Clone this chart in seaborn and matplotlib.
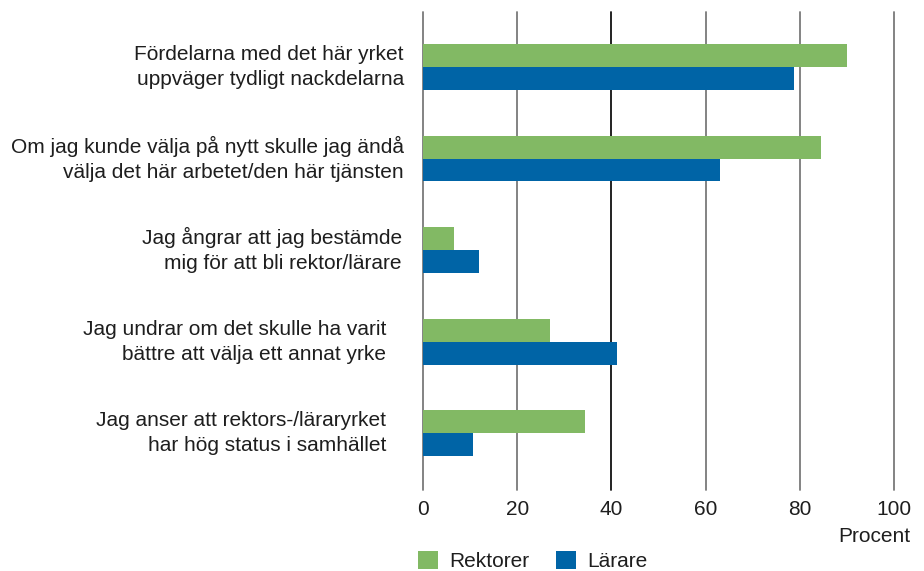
import matplotlib
matplotlib.use("Agg")
import matplotlib.pyplot as plt
from matplotlib.transforms import Bbox, blended_transform_factory, ScaledTranslation
from matplotlib.patches import Patch
import seaborn as sns
import pandas as pd

# Survey statements (two-line labels) and shares in percent
statements = [
    "Fördelarna med det här yrket\nuppväger tydligt nackdelarna",
    "Om jag kunde välja på nytt skulle jag ändå\nvälja det här arbetet/den här tjänsten",
    "Jag ångrar att jag bestämde\nmig för att bli rektor/lärare",
    "Jag undrar om det skulle ha varit\nbättre att välja ett annat yrke",
    "Jag anser att rektors-/läraryrket\nhar hög status i samhället",
]
groups = ["Rektorer", "Lärare"]
rektorer = [90, 84.5, 6.5, 27, 34.3]
larare = [78.7, 63, 11.8, 41.2, 10.7]
x_ticks = [0, 20, 40, 60, 80, 100]
x_label = "Procent"

colors = {"Rektorer": "#82B964", "Lärare": "#0064A6"}
text_color = "#1e1e1e"
fs = 15

df = pd.DataFrame({
    "statement": statements * 2,
    "group": [groups[0]] * len(statements) + [groups[1]] * len(statements),
    "value": rektorer + larare,
})

sns.set_theme(style="white")
plt.rcParams["font.family"] = ["Liberation Sans", "DejaVu Sans"]

fig = plt.figure(figsize=(9.24, 5.71), dpi=100)
ax = fig.add_axes([423 / 924, 1 - 490 / 571, 471 / 924, 478 / 571])

sns.barplot(data=df, y="statement", x="value", hue="group", hue_order=groups,
            order=statements, orient="h", palette=colors, width=0.5,
            saturation=1, linewidth=0, ax=ax, legend=False)

ax.set_xlim(0, 100)
ax.set_ylim(4.62, -0.6)
ax.set_xticks(x_ticks)
ax.set_xticklabels([str(t) for t in x_ticks], fontsize=fs, color=text_color)
ax.tick_params(axis="x", length=0, pad=7)
ax.set_yticks([])
ax.set_xlabel("")
ax.set_ylabel("")
for s in ax.spines.values():
    s.set_visible(False)

ax.grid(axis="x", color="#7a7a7a", linewidth=1.3)
ax.set_axisbelow(True)
glines = ax.get_xgridlines()
for gl in glines:
    gl.set_clip_on(False)
glines[2].set_color("#111111")

# Category labels placed to the left of the axes, clipped at the figure margin
right_offsets_px = [-19, -19, -21, -37, -37]
clip = Bbox.from_extents(12, 0, 924, 571)
base = blended_transform_factory(ax.transAxes, ax.transData)
for i, (txt, off) in enumerate(zip(statements, right_offsets_px)):
    tr = base + ScaledTranslation(off / 100, 0, fig.dpi_scale_trans)
    t = ax.text(0, i, txt, transform=tr, ha="right", va="center",
                fontsize=fs, color=text_color, linespacing=1.4)
    t.set_clip_box(clip)
    t.set_clip_on(True)

fig.text(910 / 924, 1 - 537 / 571, x_label, ha="right", va="center",
         fontsize=fs, color=text_color)

handles = [Patch(facecolor=colors[g], edgecolor="none") for g in groups]
fig.legend(handles, groups, loc="center left",
           bbox_to_anchor=(418 / 924, 1 - 561 / 571), ncol=2, frameon=False,
           fontsize=fs, handlelength=0.95, handleheight=0.95,
           handletextpad=0.55, columnspacing=1.3, borderaxespad=0,
           borderpad=0, labelcolor=text_color)

fig.savefig("out.png", dpi=100, facecolor="white")
